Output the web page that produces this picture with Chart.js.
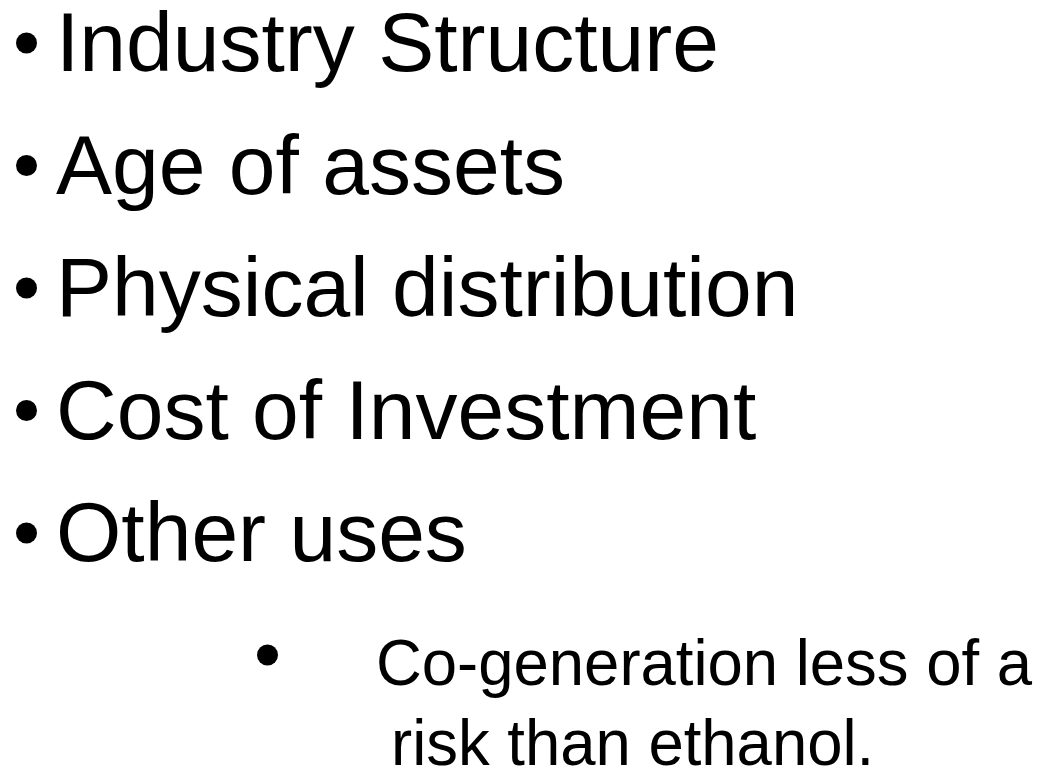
<!DOCTYPE html>
<html>
<head>
<meta charset="utf-8">
<script src="https://cdn.jsdelivr.net/npm/chart.js@4"></script>
<style>
  html, body { margin: 0; padding: 0; background: #fff; }
  #wrap { width: 1043px; height: 771px; position: relative; }
</style>
</head>
<body>
<div id="wrap"><canvas id="slide"></canvas></div>
<script>
// slide content
const bullets = ['Industry Structure', 'Age of assets', 'Physical distribution', 'Cost of Investment', 'Other uses'];
const subBullets = ['Co-generation less of a', 'risk than ethanol.'];

const FONT = '"Liberation Sans", Arial, Helvetica, sans-serif';

// draws the bullet list on top of an empty chart
const slideText = {
    id: 'slideText',
    afterDraw(chart) {
        const c = chart.ctx;
        c.save();
        c.fillStyle = '#000';
        c.textBaseline = 'alphabetic';
        c.textAlign = 'left';

        // main bullets
        c.font = '84px ' + FONT;
        bullets.forEach((t, i) => {
            const base = 71 + i * 122.5;
            c.beginPath();
            c.arc(26.5, base - 28, 10.5, 0, Math.PI * 2);
            c.fill();
            c.fillText(t, 56, base);
        });

        // sub bullet, slightly narrow text
        c.beginPath();
        c.arc(267.5, 655, 10.5, 0, Math.PI * 2);
        c.fill();
        c.font = '65px ' + FONT;
        const sx = 656 / c.measureText(subBullets[0]).width;
        const xs = [376, 391];
        const bases = [685, 765];
        subBullets.forEach((t, i) => {
            c.save();
            c.translate(xs[i], bases[i]);
            c.scale(sx, 1);
            c.fillText(t, 0, 0);
            c.restore();
        });
        c.restore();
    }
};

new Chart(document.getElementById('slide').getContext('2d'), {
    type: 'scatter',
    data: { datasets: [{ data: [] }] },
    options: {
        responsive: true,
        maintainAspectRatio: false,
        animation: false,
        events: [],
        layout: { padding: 0 },
        plugins: { legend: { display: false }, tooltip: { enabled: false } },
        scales: {
            x: { display: false },
            y: { display: false }
        }
    },
    plugins: [slideText]
});
</script>
</body>
</html>
